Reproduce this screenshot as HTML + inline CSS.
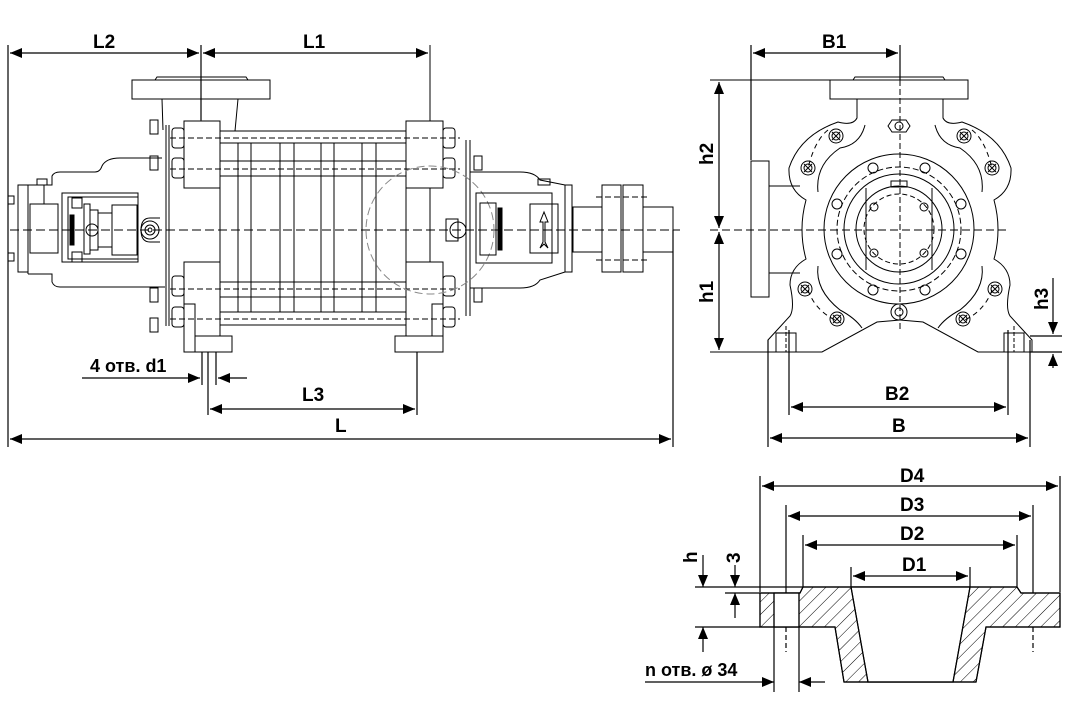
<!DOCTYPE html>
<html><head><meta charset="utf-8"><style>
html,body{margin:0;padding:0;background:#fff}
svg{display:block}
text{font-family:"Liberation Sans",sans-serif;font-weight:bold;font-size:19px;fill:#000}
</style></head><body>
<svg width="1070" height="705" viewBox="0 0 1070 705" xmlns="http://www.w3.org/2000/svg">
<defs>
<marker id="a" viewBox="0 0 12 10" refX="12" refY="5" markerWidth="12" markerHeight="10" markerUnits="userSpaceOnUse" orient="auto-start-reverse"><path d="M0,0L12,5L0,10z" fill="#000"/></marker>
<pattern id="h" width="9" height="9" patternUnits="userSpaceOnUse" patternTransform="rotate(45)"><line x1="0" y1="0" x2="0" y2="9" stroke="#000" stroke-width="1"/></pattern>
</defs>
<g fill="none" stroke="#000" stroke-width="1.2">
<!-- ===== LEFT VIEW dimension lines ===== -->
<line x1="8" y1="45" x2="8" y2="447"/>
<line x1="201" y1="45" x2="201" y2="120"/>
<line x1="430" y1="45" x2="430" y2="330" stroke-width="1"/>
<line x1="673" y1="230" x2="673" y2="447"/>
<line x1="10" y1="53" x2="199" y2="53" marker-start="url(#a)" marker-end="url(#a)"/>
<line x1="203" y1="53" x2="428" y2="53" marker-start="url(#a)" marker-end="url(#a)"/>
<line x1="10" y1="439" x2="671" y2="439" marker-start="url(#a)" marker-end="url(#a)"/>
<line x1="202" y1="340" x2="202" y2="385"/>
<line x1="208" y1="340" x2="208" y2="415"/>
<line x1="216" y1="340" x2="216" y2="385"/>
<line x1="417" y1="340" x2="417" y2="415"/>
<line x1="210" y1="409" x2="415" y2="409" marker-start="url(#a)" marker-end="url(#a)"/>
<line x1="82" y1="378" x2="200" y2="378" marker-end="url(#a)"/>
<line x1="247" y1="378" x2="218" y2="378" marker-end="url(#a)"/>

<!-- ===== LEFT VIEW pump ===== -->
<g stroke-width="1">
<line x1="10" y1="230" x2="680" y2="230" stroke-dasharray="9,4"/>
<rect x="132" y="80" width="138" height="19"/>
<path d="M155,80 L157,77 L246,77 L248,80"/>
<path d="M162,99 L163,130 M238,99 L235,131"/>
<line x1="201" y1="120" x2="201" y2="165" stroke-dasharray="6,4"/>
<line x1="166" y1="125" x2="166" y2="326"/>
<line x1="169" y1="125" x2="169" y2="326"/>
<line x1="466" y1="140" x2="466" y2="316"/>
<line x1="470" y1="140" x2="470" y2="316"/>
<rect x="184" y="121" width="36" height="67" fill="#fff"/>
<rect x="406" y="121" width="37" height="67" fill="#fff"/>
<rect x="184" y="262" width="36" height="90" fill="#fff"/>
<rect x="406" y="262" width="37" height="90" fill="#fff"/>
<rect x="184" y="304" width="11" height="48" fill="#fff"/>
<rect x="432" y="304" width="11" height="48" fill="#fff"/>
<rect x="195" y="336" width="37" height="16" fill="#fff"/>
<rect x="395" y="336" width="48" height="16" fill="#fff"/>
<rect x="220" y="131" width="186" height="12"/>
<rect x="220" y="161" width="186" height="15"/>
<rect x="220" y="282" width="186" height="15"/>
<rect x="220" y="312" width="186" height="13"/>
<line x1="220" y1="143" x2="220" y2="282"/>
<line x1="406" y1="143" x2="406" y2="282"/>
<g>
<line x1="238" y1="143" x2="238" y2="312"/><line x1="251" y1="143" x2="251" y2="312"/>
<line x1="280" y1="143" x2="280" y2="312"/><line x1="294" y1="143" x2="294" y2="312"/>
<line x1="321" y1="143" x2="321" y2="312"/><line x1="334" y1="143" x2="334" y2="312"/>
<line x1="362" y1="143" x2="362" y2="312"/><line x1="376" y1="143" x2="376" y2="312"/>
</g>
<line x1="170" y1="138" x2="460" y2="138" stroke-dasharray="6,3"/>
<line x1="170" y1="169" x2="460" y2="169" stroke-dasharray="6,3"/>
<line x1="170" y1="289" x2="460" y2="289" stroke-dasharray="6,3"/>
<line x1="170" y1="319" x2="460" y2="319" stroke-dasharray="6,3"/>
<g>
<rect x="172" y="128" width="12" height="20" rx="3"/><rect x="172" y="158" width="12" height="20" rx="3"/>
<rect x="172" y="276" width="12" height="20" rx="3"/><rect x="172" y="307" width="12" height="20" rx="3"/>
<rect x="443" y="128" width="12" height="20" rx="3"/><rect x="443" y="158" width="12" height="20" rx="3"/>
<rect x="443" y="276" width="12" height="20" rx="3"/><rect x="443" y="307" width="12" height="20" rx="3"/>
<rect x="150" y="120" width="8" height="14"/><rect x="150" y="156" width="8" height="14"/>
<rect x="150" y="288" width="8" height="14"/><rect x="474" y="156" width="8" height="14"/>
<rect x="474" y="288" width="8" height="14"/><rect x="150" y="318" width="8" height="14"/>
</g>
<circle cx="430" cy="230" r="64" stroke="#888" stroke-dasharray="8,4"/>
<!-- left bearing housing -->
<path d="M28,185 L52,185 L52,176 Q54,172 60,172 L95,172 Q100,172 102,166 Q106,158 120,158 L162,158"/>
<path d="M28,274 L52,274 L52,282 Q54,287 60,287 L165,287"/>
<line x1="28" y1="185" x2="28" y2="274"/>
<rect x="18" y="185" width="10" height="87"/>
<rect x="30" y="204" width="28" height="49"/>
<line x1="44" y1="185" x2="44" y2="204"/>
<rect x="37" y="179" width="10" height="6"/>
<rect x="62" y="193" width="76" height="69"/>
<rect x="68" y="197" width="70" height="62"/>
<rect x="70" y="215" width="4" height="30" fill="#000"/>
<rect x="84" y="204" width="6" height="50"/>
<rect x="90" y="210" width="8" height="40"/>
<rect x="98" y="213" width="14" height="34"/>
<rect x="112" y="205" width="25" height="50"/>
<circle cx="92" cy="230" r="6"/>
<rect x="72" y="198" width="10" height="10"/><rect x="72" y="252" width="10" height="10"/>
<circle cx="150" cy="230" r="9"/><circle cx="150" cy="230" r="5"/><circle cx="150" cy="230" r="2"/>
<path d="M141,230 Q141,218 150,218 L160,218 M141,230 Q141,242 150,242 L160,242"/>
<rect x="8" y="196" width="6" height="8"/><rect x="8" y="253" width="6" height="8"/>
<!-- right bearing housing -->
<path d="M470,172 L520,172 Q535,172 540,180 L565,185 M470,288 L520,288 Q535,288 540,280 L565,272"/>
<rect x="476" y="193" width="76" height="70"/>
<rect x="480" y="203" width="16" height="52"/>
<rect x="498" y="208" width="4" height="42" fill="#000"/>
<rect x="530" y="204" width="28" height="49"/>
<path d="M544,212 L540,222 L543,222 L543,242 L540,248 L544,244 L548,248 L545,242 L545,222 L548,222 Z"/>
<rect x="565" y="185" width="7" height="87"/>
<rect x="538" y="179" width="12" height="6"/>
<rect x="446" y="219" width="12" height="22"/>
<circle cx="458" cy="230" r="8"/>
<rect x="573" y="207" width="29" height="45"/>
<rect x="602" y="185" width="19" height="87"/>
<rect x="623" y="185" width="20" height="87"/>
<rect x="643" y="207" width="30" height="45"/>
<line x1="596" y1="197" x2="650" y2="197" stroke-dasharray="6,3"/>
<line x1="596" y1="260" x2="650" y2="260" stroke-dasharray="6,3"/>
</g>
<text x="93" y="48" stroke="none">L2</text>
<text x="303" y="48" stroke="none">L1</text>
<text x="302" y="401" stroke="none">L3</text>
<text x="335" y="432" stroke="none">L</text>
<text x="90" y="372" stroke="none" style="font-size:18px">4 отв. d1</text>

<!-- ===== RIGHT VIEW ===== -->
<line x1="751" y1="45" x2="751" y2="160"/>
<line x1="900" y1="45" x2="900" y2="80"/>
<line x1="753" y1="53" x2="898" y2="53" marker-start="url(#a)" marker-end="url(#a)"/>
<line x1="710" y1="80" x2="830" y2="80" stroke-width="0.9"/>
<line x1="710" y1="352" x2="768" y2="352" stroke-width="0.9"/>
<line x1="710" y1="230" x2="1008" y2="230" stroke-dasharray="8,4" stroke-width="1"/>
<line x1="719" y1="82" x2="719" y2="228" marker-start="url(#a)" marker-end="url(#a)"/>
<line x1="719" y1="232" x2="719" y2="350" marker-start="url(#a)" marker-end="url(#a)"/>
<line x1="768" y1="340" x2="768" y2="447"/>
<line x1="789" y1="330" x2="789" y2="415"/>
<line x1="1008" y1="330" x2="1008" y2="415"/>
<line x1="1030" y1="340" x2="1030" y2="447"/>
<line x1="791" y1="407" x2="1006" y2="407" marker-start="url(#a)" marker-end="url(#a)"/>
<line x1="770" y1="438" x2="1028" y2="438" marker-start="url(#a)" marker-end="url(#a)"/>
<line x1="1030" y1="336" x2="1062" y2="336"/>
<line x1="1030" y1="352" x2="1062" y2="352"/>
<line x1="1053" y1="278" x2="1053" y2="334" marker-end="url(#a)"/>
<line x1="1053" y1="368" x2="1053" y2="354" marker-end="url(#a)"/>
<g stroke-width="1">
<rect x="830" y="80" width="138" height="19"/>
<path d="M853,80 L855,77 L943,77 L945,80"/>
<line x1="900" y1="80" x2="900" y2="330" stroke-dasharray="6,3"/>
<rect x="751" y="161" width="18" height="136"/>
<path d="M769,186 L800,186 M769,273 L800,273"/>
<g id="half">
<path d="M857,99 L857,118 Q853,126 838,122 Q800,135 789,168 Q788,190 806,200 Q802,215 802,229 Q802,245 806,259 Q790,268 790,285 Q795,308 790,316 L768,340 L768,352 L822,352 L877,322 L900,320"/>
<path d="M865,125 Q860,145 840,148 Q815,165 818,192"/>
<path d="M818,266 Q815,290 840,310 Q855,318 862,328"/>
<path d="M828,130 Q815,140 808,168" stroke-dasharray="5,4"/>
<path d="M808,290 Q815,310 835,320" stroke-dasharray="5,4"/>
<g><circle cx="836" cy="136" r="7"/><circle cx="836" cy="136" r="4"/><path d="M832,132 L840,140 M840,132 L832,140"/>
<circle cx="808" cy="168" r="7"/><circle cx="808" cy="168" r="4"/><path d="M804,164 L812,172 M812,164 L804,172"/>
<circle cx="805" cy="289" r="7"/><circle cx="805" cy="289" r="4"/><path d="M801,285 L809,293 M809,285 L801,293"/>
<circle cx="837" cy="319" r="7"/><circle cx="837" cy="319" r="4"/><path d="M833,315 L841,323 M841,315 L833,323"/></g>
<rect x="776" y="333" width="20" height="19"/>
<line x1="786" y1="326" x2="786" y2="352" stroke-dasharray="4,2"/>
</g>
<use href="#half" transform="translate(1800,0) scale(-1,1)"/>
<circle cx="899" cy="229" r="75"/>
<circle cx="899" cy="229" r="62" stroke-dasharray="6,3"/>
<circle cx="899" cy="229" r="55"/>
<circle cx="899" cy="229" r="43"/>
<circle cx="899" cy="229" r="35" stroke-dasharray="5,3"/>
<path d="M866,188 L866,270 M932,188 L932,270"/>
<rect x="891" y="181" width="16" height="6"/>
<g>
<circle cx="837" cy="204" r="5"/><circle cx="961" cy="204" r="5"/><circle cx="837" cy="254" r="5"/><circle cx="961" cy="254" r="5"/>
<circle cx="873" cy="168" r="5"/><circle cx="925" cy="168" r="5"/><circle cx="873" cy="290" r="5"/><circle cx="925" cy="290" r="5"/>
<circle cx="874" cy="207" r="4"/><circle cx="924" cy="207" r="4"/><circle cx="874" cy="253" r="4"/><circle cx="924" cy="253" r="4"/>
<path d="M892,120 L906,120 L910,126 L906,132 L892,132 L888,126 Z"/><circle cx="899" cy="126" r="4"/>
<circle cx="899" cy="312" r="8"/><circle cx="899" cy="312" r="4"/>
</g>
</g>
<text x="822" y="48" stroke="none">B1</text>
<text x="885" y="400" stroke="none">B2</text>
<text x="892" y="432" stroke="none">B</text>
<text transform="translate(713,165) rotate(-90)" stroke="none">h2</text>
<text transform="translate(713,303) rotate(-90)" stroke="none">h1</text>
<text transform="translate(1048,310) rotate(-90)" stroke="none">h3</text>

<!-- ===== FLANGE SECTION ===== -->
<line x1="760" y1="476" x2="760" y2="592"/>
<line x1="1060" y1="476" x2="1060" y2="592"/>
<line x1="786" y1="505" x2="786" y2="593"/>
<line x1="1033" y1="505" x2="1033" y2="593"/>
<line x1="803" y1="535" x2="803" y2="587"/>
<line x1="1017" y1="535" x2="1017" y2="587"/>
<line x1="851" y1="567" x2="851" y2="587"/>
<line x1="970" y1="567" x2="970" y2="587"/>
<line x1="762" y1="486" x2="1058" y2="486" marker-start="url(#a)" marker-end="url(#a)"/>
<line x1="788" y1="516" x2="1031" y2="516" marker-start="url(#a)" marker-end="url(#a)"/>
<line x1="805" y1="545" x2="1015" y2="545" marker-start="url(#a)" marker-end="url(#a)"/>
<line x1="853" y1="576" x2="968" y2="576" marker-start="url(#a)" marker-end="url(#a)"/>
<path d="M760,593 L800,593 L803,587 L1017,587 L1021,593 L1060,593 L1060,627 L986,627 L976,682 L844,682 L835,627 L760,627 Z" fill="url(#h)"/>
<path d="M851,587 L970,587 L953,682 L868,682 Z" fill="#fff"/>
<rect x="774" y="593" width="25" height="34" fill="#fff"/>
<path d="M760,593 L800,593 L803,587 L1017,587 L1021,593 L1060,593 L1060,627 L986,627 L976,682 L844,682 L835,627 L760,627 Z"/>
<path d="M851,587 L868,682 M970,587 L953,682"/>
<line x1="774" y1="593" x2="774" y2="692"/>
<line x1="799" y1="593" x2="799" y2="692"/>
<line x1="786" y1="627" x2="786" y2="652" stroke-dasharray="5,3"/>
<line x1="1033" y1="627" x2="1033" y2="652" stroke-dasharray="5,3"/>
<line x1="695" y1="587" x2="803" y2="587"/>
<line x1="695" y1="627" x2="760" y2="627"/>
<line x1="725" y1="593" x2="760" y2="593"/>
<line x1="703" y1="555" x2="703" y2="587" marker-end="url(#a)"/>
<line x1="703" y1="652" x2="703" y2="627" marker-end="url(#a)"/>
<line x1="735" y1="565" x2="735" y2="587" marker-end="url(#a)"/>
<line x1="735" y1="618" x2="735" y2="593" marker-end="url(#a)"/>
<line x1="645" y1="682" x2="774" y2="682" marker-end="url(#a)"/>
<line x1="825" y1="682" x2="799" y2="682" marker-end="url(#a)"/>
</g>
<text x="900" y="482" stroke="none">D4</text>
<text x="900" y="511" stroke="none">D3</text>
<text x="900" y="540" stroke="none">D2</text>
<text x="902" y="571" stroke="none">D1</text>
<text transform="translate(697,563) rotate(-90)">h</text>
<text transform="translate(740,563) rotate(-90)">3</text>
<text x="645" y="676" style="font-size:18px">n отв. ø 34</text>
</svg>
</body></html>
